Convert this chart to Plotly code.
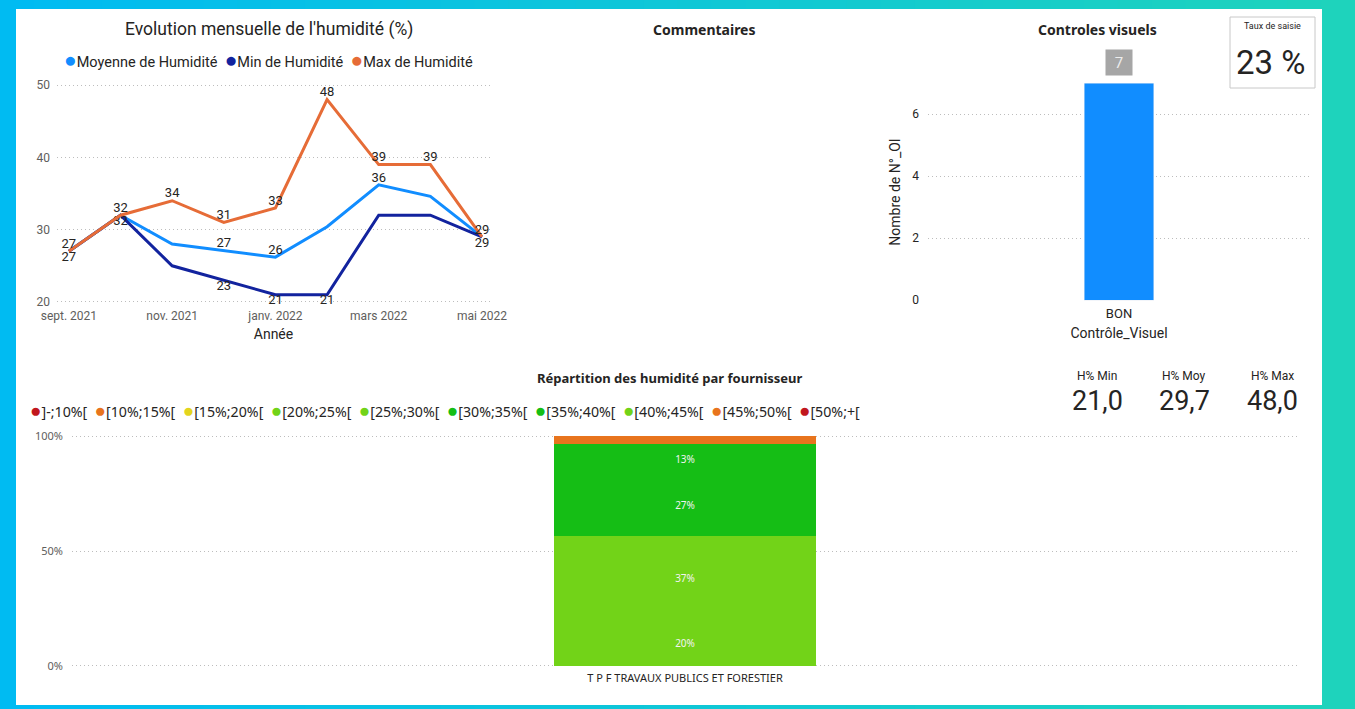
import plotly.graph_objects as go

# ---- Evolution mensuelle de l'humidité ----
mois = ["sept. 2021", "oct. 2021", "nov. 2021", "déc. 2021", "janv. 2022",
        "févr. 2022", "mars 2022", "avr. 2022", "mai 2022"]
hum_moy = [27, 32, 28, 27.1, 26.2, 30.4, 36.2, 34.6, 29]
hum_min = [27, 32, 25, 23, 21, 21, 32, 32, 29]
hum_max = [27, 32, 34, 31, 33, 48, 39, 39, 29]
# étiquettes que Power BI affiche (1 = visible)
lbl_moy = [0, 0, 0, 1, 1, 0, 1, 0, 0]
lbl_min = [1, 1, 0, 1, 1, 1, 0, 0, 1]
lbl_max = [1, 1, 1, 1, 1, 1, 1, 1, 1]

# ---- Controles visuels ----
controle_cat = ["BON"]
controle_nb = [7]

# ---- KPI ----
taux_saisie = 23
kpi_labels = ["H% Min", "H% Moy", "H% Max"]
kpi_values = [21.0, 29.7, 48.0]

# ---- Répartition par fournisseur ----
fournisseurs = ["T P F TRAVAUX PUBLICS ET FORESTIER"]
tranches = ["]-;10%[", "[10%;15%[", "[15%;20%[", "[20%;25%[", "[25%;30%[",
            "[30%;35%[", "[35%;40%[", "[40%;45%[", "[45%;50%[", "[50%;+["]
tranche_couleurs = ["#C1171D", "#E8741D", "#E3D51E", "#72D318", "#72D318",
                    "#15BE15", "#15BE15", "#72D318", "#E8741D", "#C1171D"]
nb_par_tranche = [0, 0, 0, 6, 11, 8, 4, 0, 1, 0]

C_MOY, C_MIN, C_MAX = "#118DFF", "#12239E", "#E66C37"
DIN = "Roboto"
SEGOE = "Noto Sans"
TXT = "#252423"
GREY = "#605E5C"
GRID = "#BDBDBD"
DOTS = "1px,3px"
W, H = 1355, 709


def px(x):
    return x / W


def py(y):
    return 1 - y / H


fig = go.Figure()

# lignes humidité
for vals, show, color, pos, name in [
    (hum_moy, lbl_moy, C_MOY, "top center", "Moyenne de Humidité"),
    (hum_min, lbl_min, C_MIN, "bottom center", "Min de Humidité"),
    (hum_max, lbl_max, C_MAX, "top center", "Max de Humidité"),
]:
    fig.add_trace(go.Scatter(
        x=mois, y=vals, name=name, mode="lines+text",
        line=dict(color=color, width=3),
        text=[f"{v:.0f}" if s else "" for v, s in zip(vals, show)],
        textposition=pos, textfont=dict(family=DIN, size=13, color=TXT),
        cliponaxis=False, xaxis="x", yaxis="y",
    ))

# barre controles visuels
fig.add_trace(go.Bar(
    x=controle_cat, y=controle_nb, marker_color=C_MOY, width=0.183,
    xaxis="x2", yaxis="y2",
))

# barres empilées 100 %
total = sum(nb_par_tranche)
for t, c, n in zip(tranches, tranche_couleurs, nb_par_tranche):
    pct = n / total * 100
    fig.add_trace(go.Bar(
        x=fournisseurs, y=[pct], name=t, marker=dict(color=c, line_width=0),
        width=0.2137, text=[f"{pct:.0f}%" if pct >= 5 else ""],
        textposition="inside", insidetextanchor="middle", textangle=0,
        textfont=dict(family=SEGOE, size=10, color="#F2F2F2"),
        xaxis="x3", yaxis="y3",
    ))

axis_common = dict(showline=False, zeroline=False, ticks="", automargin=False)
fig.update_layout(
    width=W, height=H, autosize=False, margin=dict(l=0, r=0, t=0, b=0, pad=0),
    paper_bgcolor="#0FC3E6", plot_bgcolor="rgba(0,0,0,0)",
    showlegend=False, barmode="stack",
    xaxis=dict(domain=[px(57), px(490)], type="category", range=[-0.23, 8.155],
               tickvals=mois[::2], showgrid=False, ticklabelstandoff=4,
               tickfont=dict(family=DIN, size=12, color=GREY),
               title=dict(text="Année", standoff=6,
                          font=dict(family=DIN, size=14, color=TXT)),
               **axis_common),
    yaxis=dict(domain=[py(303.4), py(83.6)], range=[19.8, 50.2], dtick=10,
               gridcolor=GRID, griddash=DOTS, ticklabelstandoff=6,
               tickfont=dict(family=DIN, size=12, color=GREY), **axis_common),
    xaxis2=dict(domain=[px(928), px(1310)], anchor="y2", range=[-0.5, 0.5],
                showgrid=False, ticklabelstandoff=3,
                tickfont=dict(family=DIN, size=13, color=TXT),
                title=dict(text="Contrôle_Visuel", standoff=8,
                           font=dict(family=DIN, size=14, color=TXT)),
                **axis_common),
    yaxis2=dict(domain=[py(301), py(83)], anchor="x2", range=[-0.03, 7.0],
                dtick=2, gridcolor=GRID, griddash=DOTS, ticklabelstandoff=8,
                tickfont=dict(family=DIN, size=12, color=TXT),
                title=dict(text="Nombre de N°_OI", standoff=8,
                           font=dict(family=DIN, size=14, color=TXT)),
                **axis_common),
    xaxis3=dict(domain=[px(72), px(1298)], anchor="y3", range=[-0.5, 0.5],
                showgrid=False, ticklabelstandoff=3,
                tickfont=dict(family=SEGOE, size=11, color=TXT),
                **axis_common),
    yaxis3=dict(domain=[py(667), py(435)], anchor="x3", range=[-0.5, 100.5],
                tickvals=[0, 50, 100], ticktext=["0%", "50%", "100%"],
                gridcolor=GRID, griddash=DOTS, ticklabelstandoff=8,
                tickfont=dict(family=SEGOE, size=11, color=GREY),
                **axis_common),
)

# cadre en dégradé cyan -> turquoise puis panneau blanc
shapes = []
n_strips = 40
c0, c1 = (0x00, 0xBB, 0xF2), (0x1E, 0xD3, 0xBC)
for i in range(n_strips):
    f = i / (n_strips - 1)
    col = "rgb(%d,%d,%d)" % tuple(round(a + (b - a) * f) for a, b in zip(c0, c1))
    shapes.append(dict(type="rect", xref="paper", yref="paper", layer="below",
                       x0=i / n_strips, x1=(i + 1) / n_strips + 0.002, y0=0, y1=1,
                       fillcolor=col, line_width=0))
shapes.append(dict(type="rect", xref="paper", yref="paper", layer="below",
                   x0=px(16), x1=px(1322), y0=py(705), y1=py(9),
                   fillcolor="white", line_width=0))
# carte "Taux de saisie"
shapes.append(dict(type="rect", xref="paper", yref="paper", layer="below",
                   x0=px(1230), x1=px(1315), y0=py(88), y1=py(17),
                   fillcolor="white", line=dict(color="#C8C8C8", width=1)))
fig.update_layout(shapes=shapes)


def note(text, x, y, size, family=DIN, color=TXT, xanchor="center"):
    fig.add_annotation(text=text, x=px(x), y=py(y), xref="paper", yref="paper",
                       showarrow=False, xanchor=xanchor, yanchor="middle",
                       font=dict(family=family, size=size, color=color))


note("Evolution mensuelle de l'humidité (%)", 269, 29, 17.5)
note("<b>Commentaires</b>", 705, 29, 14, SEGOE)
note("<b>Controles visuels</b>", 1097, 29, 14, SEGOE)
note("<b>Répartition des humidité par fournisseur</b>", 670, 378, 13, SEGOE)

# légendes façon Power BI
leg1 = "&nbsp;&nbsp;".join(
    f'<span style="color:{c};font-size:21px">●</span>{n}'
    for c, n in [(C_MOY, "Moyenne de Humidité"), (C_MIN, "Min de Humidité"),
                 (C_MAX, "Max de Humidité")])
note(leg1, 62, 60, 14.5, xanchor="left")
leg2 = "&nbsp;&nbsp;".join(f'<span style="color:{c};font-size:19px">●</span>{t}'
                           for t, c in zip(tranches, tranche_couleurs))
note(leg2, 28, 410, 14.2, SEGOE, xanchor="left")

# étiquette de donnée "7"
fig.add_annotation(x=controle_cat[0], y=controle_nb[0], xref="x2", yref="y2",
                   text=str(controle_nb[0]), showarrow=False, yanchor="bottom",
                   yshift=7, bgcolor="#A6A6A6", width=24, height=23,
                   font=dict(family=DIN, size=15, color="#EDEDED"))

# cartes KPI
note("Taux de saisie", 1272, 26, 9)
note(f"{taux_saisie} %", 1270, 63, 33)
for lab, val, x in zip(kpi_labels, kpi_values, [1097, 1184, 1272]):
    note(lab, x, 376, 12)
    note(f"{val:.1f}".replace(".", ","), x, 401, 27)

# la page ne doit pas décaler la figure
fig.write_html("out.html", config={"displayModeBar": False},
               post_script="document.body.style.margin='0';")
